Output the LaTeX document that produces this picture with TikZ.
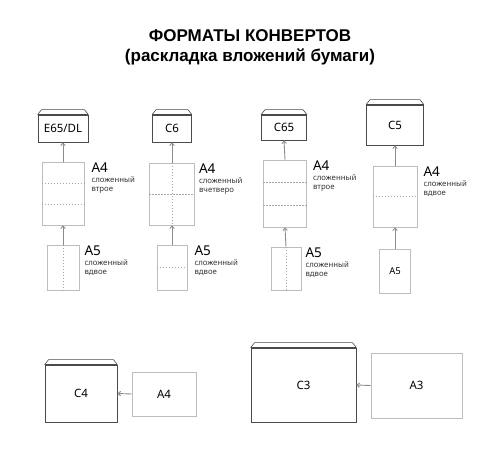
\documentclass[tikz,border=0pt]{standalone}
\usepackage{fontspec}
\setmainfont{Noto Sans}
\newfontfamily\titlefont{Liberation Sans}
\usetikzlibrary{arrows.meta, positioning, calc}
\definecolor{envgray}{HTML}{4A4A4A}
\definecolor{papergray}{HTML}{BDBDBD}
\definecolor{foldgray}{HTML}{A8A8A8}
\definecolor{arrowgray}{HTML}{8C8C8C}
\definecolor{txtgray}{HTML}{333333}
\newcommand{\foldtxt}[1]{{\fontsize{7.8}{8}\selectfont\color{txtgray}#1}}

\begin{document}
\begin{tikzpicture}[
    x=1pt, y=-1pt,
    every node/.style={inner sep=0pt, font=\fontsize{11.5}{12}\selectfont},
    envbox/.style={rectangle, draw=envgray, line width=0.8pt},
    paperbox/.style={rectangle, draw=papergray, line width=0.7pt},
    flap/.style={draw=envgray, line width=0.6pt},
    envtop/.style={draw=envgray, line width=1.4pt},
    fold/.style={draw=foldgray, dash pattern=on 1.5pt off 1.5pt, line width=0.5pt},
    arrow/.style={draw=arrowgray, line width=0.9pt, -{Straight Barb[length=2.5pt, width=4.5pt]}},
    biglabel/.style={anchor=north west, align=left, font=\fontsize{13.5}{9}\selectfont}
]
\useasboundingbox (0,0) rectangle (500,450);

% title
\node[font=\titlefont\fontsize{17}{20}\selectfont\bfseries, align=center] (title) at (250,47)
    {ФОРМАТЫ КОНВЕРТОВ\\(раскладка вложений бумаги)};

% column 1: E65/DL
\node[envbox, minimum width=50, minimum height=27] (env1) at (63,128.5) {E65/DL};
\node[paperbox, minimum width=42, minimum height=63] (a4a) at (63,193.5) {};
\node[paperbox, minimum width=32, minimum height=45] (a5a) at (63,267.5) {};
\node[biglabel, right=7 of a4a.north east, anchor=north west, yshift=-1] (la4a)
    {A4\\[1pt]\foldtxt{сложенный}\\\foldtxt{втрое}};
\node[biglabel, right=5 of a5a.north east, anchor=north west, yshift=-1] (la5a)
    {A5\\[1pt]\foldtxt{сложенный}\\\foldtxt{вдвое}};

% column 2: C6
\node[envbox, minimum width=39, minimum height=27] (env2) at (172,128.5) {C6};
\node[paperbox, minimum width=45, minimum height=62] (a4b) at (172,194) {};
\node[paperbox, minimum width=30, minimum height=45] (a5b) at (172,267.5) {};
\node[biglabel, right=4 of a4b.north east, anchor=north west, yshift=-1] (la4b)
    {A4\\[1pt]\foldtxt{сложенный}\\\foldtxt{вчетверо}};
\node[biglabel, right=7 of a5b.north east, anchor=north west, yshift=-1] (la5b)
    {A5\\[1pt]\foldtxt{сложенный}\\\foldtxt{вдвое}};

% column 3: C65
\node[envbox, minimum width=45, minimum height=25] (env3) at (284,127.5) {C65};
\node[paperbox, minimum width=43, minimum height=67] (a4c) at (285,193.5) {};
\node[paperbox, minimum width=30, minimum height=43] (a5c) at (286,268.5) {};
\node[biglabel, right=6 of a4c.north east, anchor=north west, yshift=-1] (la4c)
    {A4\\[1pt]\foldtxt{сложенный}\\\foldtxt{втрое}};
\node[biglabel, right=4 of a5c.north east, anchor=north west, yshift=-1] (la5c)
    {A5\\[1pt]\foldtxt{сложенный}\\\foldtxt{вдвое}};

% column 4: C5
\node[envbox, minimum width=57, minimum height=40] (env4) at (395,125) {C5};
\node[paperbox, minimum width=31, minimum height=44, font=\fontsize{9.5}{10}\selectfont] (a5d) at (395,271) {A5};
\node[paperbox, minimum width=44, minimum height=61] (a4d) at (395,196.5) {};
\node[biglabel, right=6 of a4d.north east, anchor=north west, yshift=-1] (la4d)
    {A4\\[1pt]\foldtxt{сложенный}\\\foldtxt{вдвое}};

% bottom row
\node[envbox, minimum width=72, minimum height=57] (env5) at (81,393.5) {C4};
\node[paperbox, minimum width=64, minimum height=44] (a4e) at (164,394) {A4};
\node[envbox, minimum width=105, minimum height=74] (env6) at (303.5,385) {C3};
\node[paperbox, minimum width=91, minimum height=65] (a3) at (416.5,385.5) {A3};

% envelope flaps
\foreach \e in {env1,env2,env3,env4,env5,env6} {
  \draw[flap] (\e.north west) -- ++(4,-5) -- ($(\e.north east)+(-4,-5)$) -- (\e.north east);
  \draw[envtop] (\e.north west) -- (\e.north east);
}

% fold lines
\foreach \p in {a4a,a4c} {
  \draw[fold] ($(\p.north west)!1/3!(\p.south west)$) -- ($(\p.north east)!1/3!(\p.south east)$);
  \draw[fold] ($(\p.north west)!2/3!(\p.south west)$) -- ($(\p.north east)!2/3!(\p.south east)$);
}
\foreach \p in {a4b,a4d,a5b} {
  \draw[fold] (\p.west) -- (\p.east);
}
\foreach \p in {a4b,a5a,a5c} {
  \draw[fold] (\p.north) -- (\p.south);
}

% arrows
\draw[arrow] (a4a.north) -- (env1.south);
\draw[arrow] (a5a.north) -- (a4a.south);
\draw[arrow] (a4b.north) -- (env2.south);
\draw[arrow] (a5b.north) -- (a4b.south);
\draw[arrow] (a4c.north) -- (env3.south);
\draw[arrow] (a5c.north) -- (a4c.south);
\draw[arrow] (a4d.north) -- (env4.south);
\draw[arrow] (a5d.north) -- (a4d.south);
\draw[arrow] (a4e.west) -- (env5.east);
\draw[arrow] (a3.west) -- (env6.east);

\end{tikzpicture}
\end{document}
